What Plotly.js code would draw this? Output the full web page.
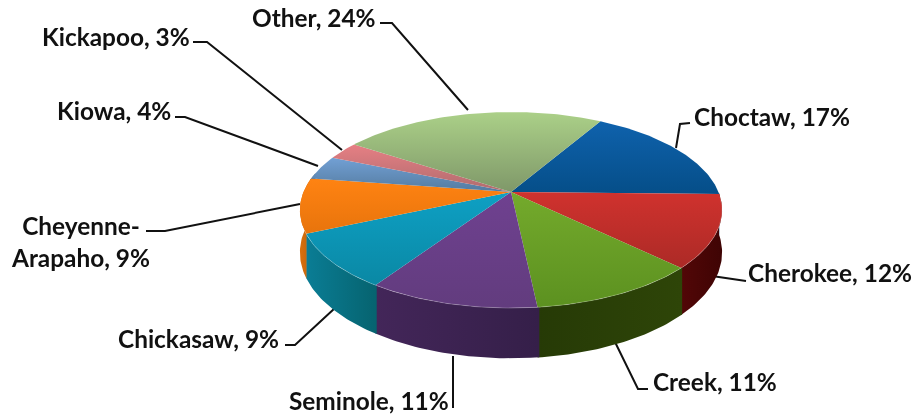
<!DOCTYPE html>
<html><head><meta charset="utf-8">
<script src="https://cdn.plot.ly/plotly-3.0.1.min.js"></script>
<style>html,body{margin:0;padding:0;background:#fff}#c{width:916px;height:415px;filter:blur(0.45px)}</style>
</head><body><div id="c"></div>
<script>
// Data
const categories = ['Choctaw','Cherokee','Creek','Seminole','Chickasaw','Cheyenne-Arapaho','Kiowa','Kickapoo','Other'];
const shares = [17,12,11,11,9,9,4,3,24];
const labelTexts = ['Choctaw, 17%','Cherokee, 12%','Creek, 11%','Seminole, 11%','Chickasaw, 9%','Cheyenne-<br>Arapaho, 9%','Kiowa, 4%','Kickapoo, 3%','Other, 24%'];

// Colours: top face light/dark, wall left/right
const topLight = ['#0f62ad','#d0322e','#74aa2c','#6f4190','#0ea0c4','#ff8312','#72a0d4','#e67f84','#abd088'];
const topDark  = ['#054e88','#ac2a26','#5c9120','#623c7e','#0a88a4','#e8740c','#547ba0','#b06c6e','#7f9869'];
const wallLeft = ['#05406e','#520707','#263a06','#432659','#0a7d95','#d9700e','#456a90','#904f52','#6f8a55'];
const wallRight= ['#05406e','#3f0404','#2e4508','#351f49','#06636f','#c0620a','#456a90','#904f52','#6f8a55'];

// Projection of the tilted disc
const APEX_X = 511, APEX_Y = 192, A = 207.5, B = 94.7, K = 0.184, H = 41, START_DEG = 60;
function proj(deg, r, drop){
  const t = deg*Math.PI/180, X = r*Math.cos(t), Y = r*Math.sin(t), w = 1 + K*Y;
  return [APEX_X + A*X/w, APEX_Y - B*Y/w + drop/w];
}
function arc(a0, a1, drop){
  const n = Math.max(2, Math.ceil(Math.abs(a1-a0))), xs = [], ys = [];
  for(let i=0;i<=n;i++){ const p = proj(a0+(a1-a0)*i/n, 1, drop); xs.push(p[0]); ys.push(p[1]); }
  return [xs, ys];
}
const total = shares.reduce((a,b)=>a+b,0);
const traces = [];

// Leader lines (under the disc)
const leaders = [
 [[690,680,676],[123,124,148]],
 [[746,712],[281,276]],
 [[648,638,615],[389,389,342]],
 [[453,453],[408,356]],
 [[285,295,335],[345,345,308]],
 [[146,165,300],[231,231,204]],
 [[175,185,318],[117,117,166]],
 [[193,207,342],[42,42,150]],
 [[380,392,468],[23,23,110]]
];
leaders.forEach(l=>traces.push({x:l[0],y:l[1],mode:'lines',line:{color:'#111',width:2},hoverinfo:'skip'}));

// Walls (each slightly overlaps the next so no seam shows)
let ang = START_DEG;
const spans = shares.map(s=>{const a0=ang; ang-=s/total*360; return [a0,ang];});
spans.forEach((sp,i)=>{
  const a0 = Math.min(sp[0]+0.4, -0.5), a1 = Math.max(sp[1], -192);
  if(a1 >= a0) return;
  const top = arc(a0,a1,0), bot = arc(a1,a0,H);
  traces.push({x:top[0].concat(bot[0]),y:top[1].concat(bot[1]),mode:'lines',fill:'toself',
    line:{width:0,color:wallRight[i]},fillcolor:wallRight[i],
    fillgradient:{type:'horizontal',colorscale:[[0,wallLeft[i]],[1,wallRight[i]]]},hoverinfo:'skip'});
});
// Top faces
spans.forEach((sp,i)=>{
  const r = arc(sp[0],sp[1],0);
  traces.push({x:[APEX_X].concat(r[0],[APEX_X]),y:[APEX_Y].concat(r[1],[APEX_Y]),mode:'lines',fill:'toself',name:categories[i],
    line:{width:0,color:topLight[i]},fillcolor:topLight[i],
    fillgradient:{type:'vertical',colorscale:[[0,topDark[i]],[1,topLight[i]]]},hoverinfo:'skip'});
});
// Thin highlight along the front rim
const rim = arc(-3,-158,0);
traces.push({x:rim[0],y:rim[1],mode:'lines',line:{color:'rgba(255,255,255,0.22)',width:1},hoverinfo:'skip'});

const labelX = [771.5,830,714.5,369,198,80,113.5,116,313.5];
const labelY = [116,272,381,400,338,241,110,36,17];
const annotations = labelTexts.map((t,i)=>({x:labelX[i],y:labelY[i],xref:'x',yref:'y',text:'<b>'+t+'</b>',showarrow:false,
  xanchor:'center',yanchor:'middle',font:{family:'Lato, "Open Sans", sans-serif',size:24.4,color:'#111'},
  align:'center'}));

Plotly.newPlot('c',traces,{
  width:916,height:415,margin:{l:0,r:0,t:0,b:0},showlegend:false,
  paper_bgcolor:'#fff',plot_bgcolor:'#fff',
  xaxis:{range:[0,916],visible:false,fixedrange:true},
  yaxis:{range:[415,0],visible:false,fixedrange:true},
  annotations
},{staticPlot:true,displayModeBar:false});
</script></body></html>
